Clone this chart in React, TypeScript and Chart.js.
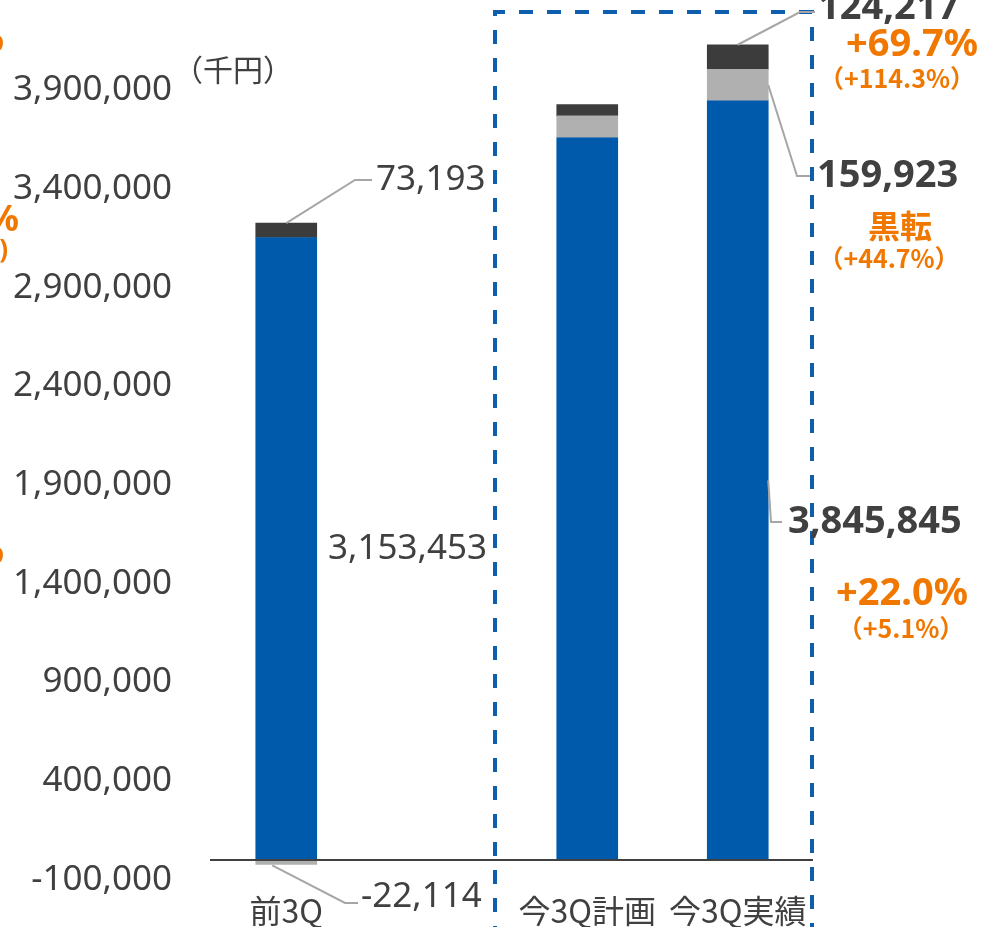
import React, { useEffect, useRef } from 'react';
import { Chart, registerables } from 'chart.js';

Chart.register(...registerables);

// ---- data ----
const categories = ['前3Q', '', '今3Q計画', '今3Q実績'];
const mainValues = [3153453, null, 3659000, 3845845];
const secondValues = [-22114, null, 110500, 159923];
const thirdValues = [73193, null, 58000, 124217];
const yTickValues = [-100000, 400000, 900000, 1400000, 1900000, 2400000, 2900000, 3400000, 3900000];
const yMin = -100000;
const yMax = 4300000;
const unitLabel = '（千円）';
const prevLabels = { main: '3,153,453', second: '-22,114', third: '73,193' };
const actualLabels = { main: '3,845,845', second: '159,923', third: '124,217' };
const growthLabels = {
  third: ['+69.7%', '（+114.3%）'],
  second: ['黒転', '（+44.7%）'],
  main: ['+22.0%', '（+5.1%）'],
};

const BLUE = '#005AAB';
const GRAY = '#B0B0B0';
const DARK = '#3C3C3C';
const TEXT = '#404040';
const ORANGE = '#F07800';
const LEADER = '#A6A6A6';
const LATIN = "'Noto Sans', 'Noto Sans CJK JP', sans-serif";
const CJK = "'Noto Sans CJK JP', 'Noto Sans', sans-serif";

const overlayPlugin = {
  id: 'overlay',
  afterDatasetsDraw(chart: any) {
    const ctx = chart.ctx as CanvasRenderingContext2D;
    const xs = chart.scales.x;
    const ys = chart.scales.y;
    const y0 = ys.getPixelForValue(0);
    const m0 = chart.getDatasetMeta(0).data;
    const m1 = chart.getDatasetMeta(1).data;
    const m2 = chart.getDatasetMeta(2).data;

    ctx.save();
    // zero axis line
    ctx.strokeStyle = TEXT;
    ctx.lineWidth = 2;
    ctx.beginPath();
    ctx.moveTo(xs.left - 1, y0);
    ctx.lineTo(xs.right, y0);
    ctx.stroke();

    // dashed frame
    ctx.strokeStyle = '#0F5EAE';
    ctx.lineWidth = 4;
    ctx.setLineDash([14, 14]);
    ctx.beginPath();
    ctx.moveTo(495, 940);
    ctx.lineTo(495, 12);
    ctx.lineTo(812, 12);
    ctx.lineTo(812, 940);
    ctx.stroke();
    ctx.setLineDash([]);

    // leader lines
    ctx.strokeStyle = LEADER;
    ctx.lineWidth = 2;
    const poly = (pts: number[][]) => {
      ctx.beginPath();
      ctx.moveTo(pts[0][0], pts[0][1]);
      for (let i = 1; i < pts.length; i++) ctx.lineTo(pts[i][0], pts[i][1]);
      ctx.stroke();
    };
    const p3 = m2[0] as any;
    poly([[p3.x, p3.y], [355, 180], [372, 180]]);
    const p2 = m1[0] as any;
    poly([[p2.x - 14, p2.y + 1], [345, 903], [358, 903]]);
    const a3 = m2[3] as any;
    poly([[a3.x, a3.y], [800, 12], [815, 12]]);
    const a2 = m1[3] as any;
    poly([[a2.x + a2.width / 2, (a2.y + a2.base) / 2], [797, 176], [810, 176]]);
    const a1 = m0[3] as any;
    poly([[a1.x + a1.width / 2, (a1.y + a1.base) / 2], [771, 522], [782, 522]]);

    // value labels
    ctx.textBaseline = 'middle';
    ctx.fillStyle = TEXT;
    ctx.font = `35px ${LATIN}`;
    ctx.textAlign = 'left';
    ctx.fillText(prevLabels.third, 376, 180);
    ctx.fillText(prevLabels.second, 361, 897);
    ctx.textAlign = 'right';
    ctx.fillText(prevLabels.main, 487, 549);

    ctx.textAlign = 'left';
    ctx.font = `bold 38px ${LATIN}`;
    ctx.fillText(actualLabels.third, 818, 8);
    ctx.fillText(actualLabels.second, 817, 176);
    ctx.fillText(actualLabels.main, 788, 522);

    // unit
    ctx.font = `30px ${CJK}`;
    ctx.fillText(unitLabel, 173, 70);

    // growth labels
    ctx.fillStyle = ORANGE;
    ctx.textAlign = 'center';
    ctx.font = `bold 38px ${LATIN}`;
    ctx.fillText(growthLabels.third[0], 912, 45);
    ctx.fillText(growthLabels.main[0], 902, 594);
    ctx.font = `bold 25px ${CJK}`;
    ctx.fillText(growthLabels.third[1], 897, 78);
    ctx.fillText(growthLabels.second[1], 889, 258);
    ctx.fillText(growthLabels.main[1], 901, 628);
    ctx.font = `bold 32px ${CJK}`;
    ctx.fillText(growthLabels.second[0], 900, 226);

    // cropped fragments at the left edge
    ctx.textAlign = 'right';
    ctx.font = `bold 36px ${LATIN}`;
    ctx.fillText('%', 4, 41);
    ctx.fillText('%', 19, 221);
    ctx.fillText('%', 4, 553);
    ctx.font = `bold 26px ${LATIN}`;
    ctx.fillText(')', 8, 251);
    ctx.restore();
  },
};

export default function App() {
  const ref = useRef<HTMLCanvasElement | null>(null);
  useEffect(() => {
    if (!ref.current) return;
    const chart = new Chart(ref.current, {
      type: 'bar',
      data: {
        labels: categories,
        datasets: [
          { label: 'main', data: mainValues as any, backgroundColor: BLUE, barThickness: 61 },
          { label: 'second', data: secondValues as any, backgroundColor: GRAY, barThickness: 61 },
          { label: 'third', data: thirdValues as any, backgroundColor: DARK, barThickness: 61 },
        ],
      },
      options: {
        responsive: false,
        animation: false,
        layout: { padding: { top: 11.2, right: 170, left: 0, bottom: 0 } },
        plugins: { legend: { display: false }, tooltip: { enabled: false } },
        scales: {
          x: {
            stacked: true,
            grid: { display: false, drawTicks: false },
            border: { display: false },
            ticks: { color: TEXT, font: { family: CJK, size: 32 }, padding: 12, maxRotation: 0, autoSkip: false },
            afterFit: (s: any) => { s.height = 47.3; s.paddingLeft = 0; s.paddingRight = 0; },
          },
          y: {
            stacked: true,
            min: yMin,
            max: yMax,
            grid: { display: false, drawTicks: false },
            border: { display: false },
            afterBuildTicks: (s: any) => { s.ticks = yTickValues.map((v) => ({ value: v })); },
            ticks: {
              color: TEXT,
              font: { family: LATIN, size: 35 },
              padding: 39,
              callback: (v: any) => Number(v).toLocaleString('en-US'),
            },
            afterFit: (s: any) => { s.width = 211; s.paddingTop = 0; s.paddingBottom = 0; },
          },
        },
      },
      plugins: [overlayPlugin],
    });
    return () => chart.destroy();
  }, []);
  return (
    <div style={{ position: 'absolute', left: 0, top: 0, width: 983, height: 927, background: '#fff' }}>
      <canvas ref={ref} width={983} height={927} style={{ display: 'block' }} />
    </div>
  );
}
